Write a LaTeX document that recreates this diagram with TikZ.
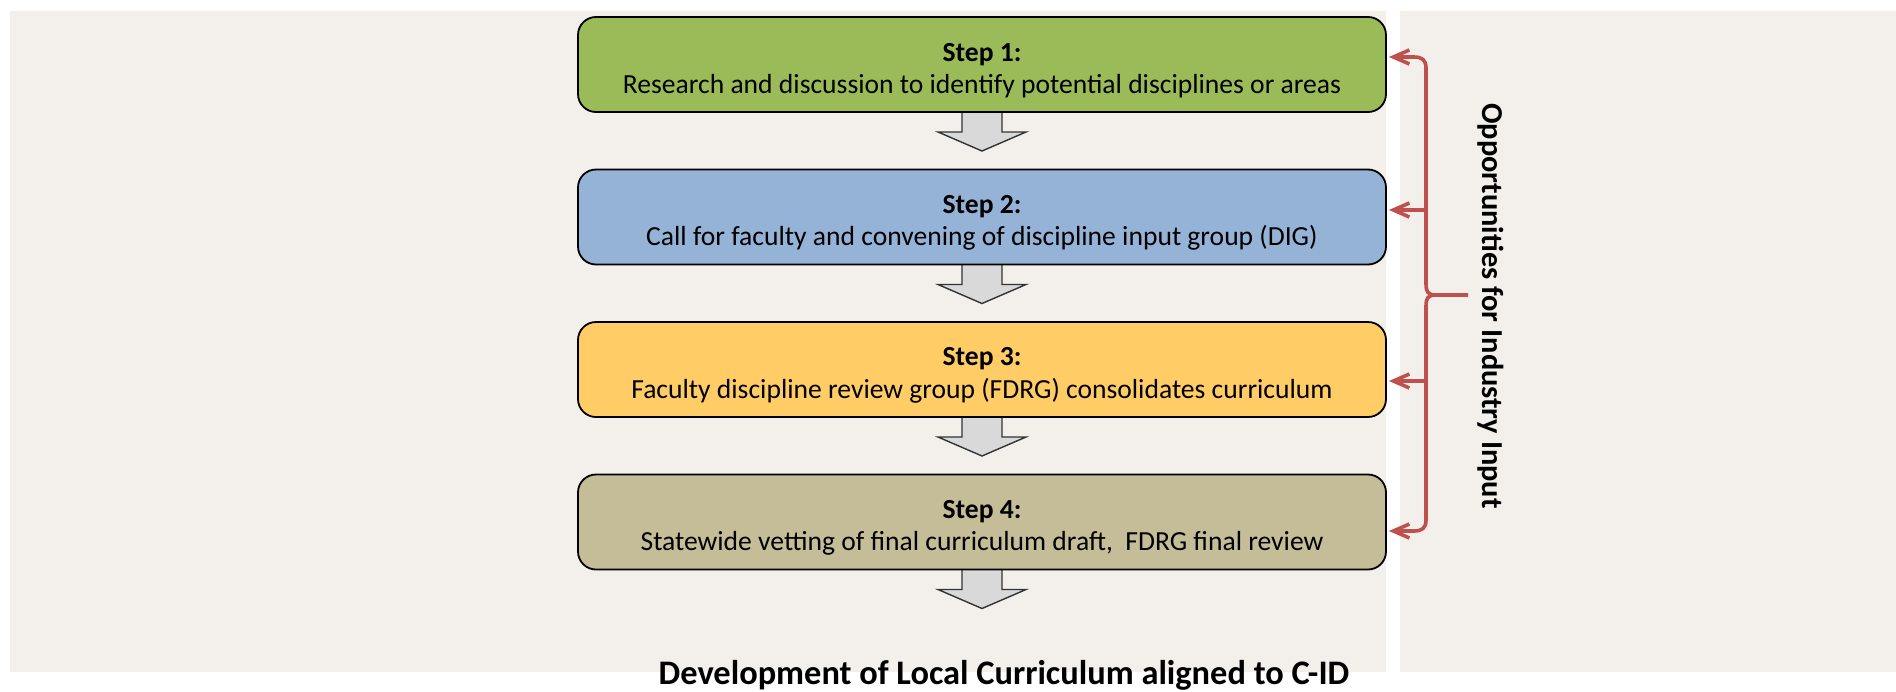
\documentclass[tikz,border=0pt]{standalone}
\usepackage{fontspec}
\setmainfont{Carlito}
\usetikzlibrary{arrows.meta,calc}
\definecolor{bgc}{HTML}{F3F0EC}
\definecolor{sgreen}{HTML}{9BBB59}
\definecolor{sblue}{HTML}{95B3D7}
\definecolor{syellow}{HTML}{FFCC66}
\definecolor{stan}{HTML}{C4BD97}
\definecolor{bracered}{HTML}{C0504D}
\definecolor{arrowgray}{HTML}{D9D9D9}
\newcommand{\topstrut}{\rule{0pt}{15pt}}
\begin{document}
\begin{tikzpicture}[x=0.5pt,y=-0.5pt,
  stepbox/.style={draw=black, line width=0.9pt, rounded corners=9pt,
    minimum width=404pt, minimum height=47.5pt, align=center,
    font=\fontsize{13.8}{16.2}\selectfont, inner sep=0pt},
  blockarr/.style={draw=black!80, fill=arrowgray, line width=0.7pt},
  brc/.style={draw=bracered, line width=1.8pt},
  brcarrow/.style={brc, -{Straight Barb[length=8pt,width=7pt]}}]
\useasboundingbox[fill=white] (0,0) rectangle (1896,691);
\fill[bgc] (10,11) rectangle (1386,672);
\fill[bgc] (1400,11) rectangle (1896,672);
% block arrows (drawn before boxes)
\foreach \n/\y in {1/112,2/264.5,3/417,4/569.5}{
  \coordinate (a\n) at (982,\y);
  \draw[blockarr] ($(a\n)+(-20,-2)$) -- ++(0,22) -- ++(-24,0) -- ($(a\n)+(0,39)$)
    -- ($(a\n)+(44,20)$) -- ($(a\n)+(20,20)$) -- ($(a\n)+(20,-2)$);
}
\node[stepbox, fill=sgreen] (s1) at (982,64.5) {\topstrut\textbf{Step 1:}\\Research and discussion to identify potential disciplines or areas};
\node[stepbox, fill=sblue] (s2) at (982,217) {\topstrut\textbf{Step 2:}\\Call for faculty and convening of discipline input group (DIG)};
\node[stepbox, fill=syellow] (s3) at (982,369.5) {\topstrut\textbf{Step 3:}\\Faculty discipline review group (FDRG) consolidates curriculum};
\node[stepbox, fill=stan] (s4) at (982,522) {\topstrut\textbf{Step 4:}\\Statewide vetting of final curriculum draft,\ \ FDRG final review};
% brace
\coordinate (cusp) at (1468,295);
\coordinate (cm) at (1436,295);
\draw[brcarrow] (cusp) -- (cm) .. controls (1428,295) and (1426,292) .. (1426,284)
  -- (1426,68) .. controls (1426,60) and (1422,57) .. (1414,57) -- ($(s1.east)+(2,-7.5)$);
\draw[brcarrow] (cm) .. controls (1428,295) and (1426,298) .. (1426,306)
  -- (1426,520) .. controls (1426,528) and (1422,531) .. (1414,531) -- ($(s4.east)+(2,9)$);
\draw[brcarrow] (1426,210) -- ($(s2.east)+(2,-7)$);
\draw[brcarrow] (1426,381) -- ($(s3.east)+(2,11.5)$);
\node[rotate=-90, font=\bfseries\fontsize{15.2}{17}\selectfont] (opp) at (1491,306) {Opportunities for Industry Input};
\node[font=\bfseries\fontsize{17.2}{19}\selectfont] (cap) at (1004,675) {Development of Local Curriculum aligned to C-ID};
\end{tikzpicture}
\end{document}
